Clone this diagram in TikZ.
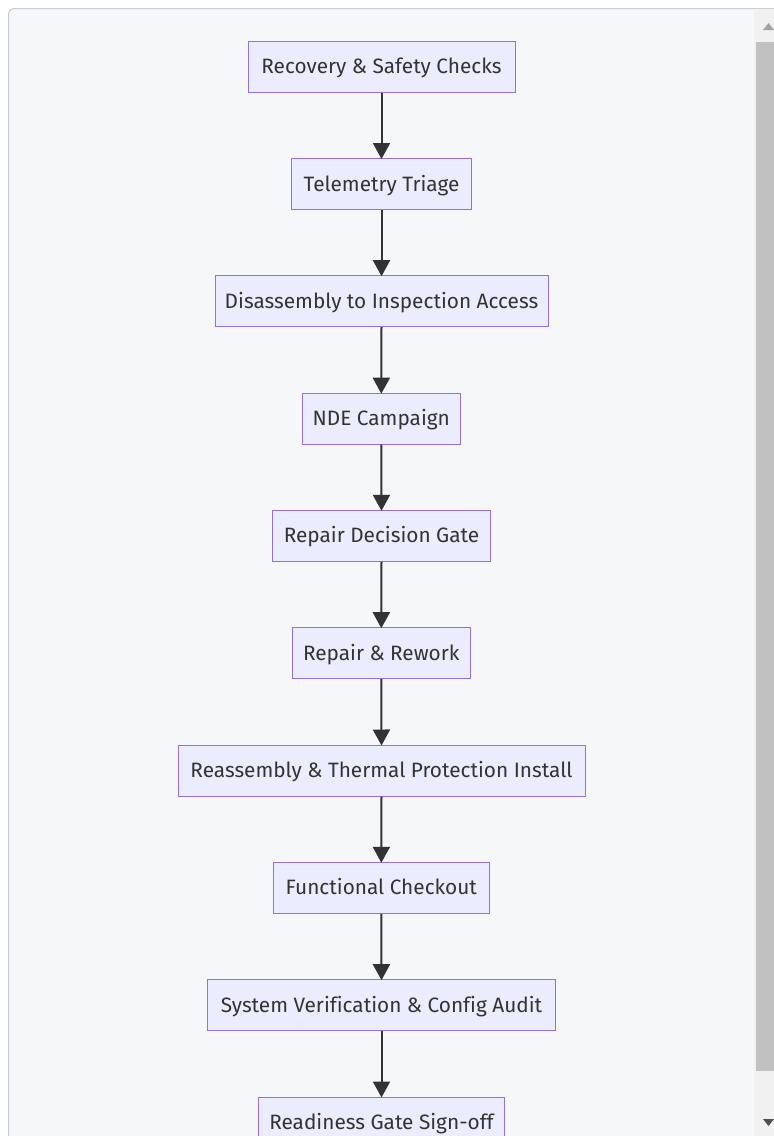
\documentclass[tikz,border=0pt]{standalone}
\usepackage{fontspec}
\setmainfont[Ligatures=NoCommon]{Fira Sans}
\usetikzlibrary{arrows.meta}
\definecolor{pagebg}{HTML}{FFFFFF}
\definecolor{panelbg}{HTML}{F6F7F9}
\definecolor{panelborder}{HTML}{C9CED4}
\definecolor{nodefill}{HTML}{ECECFF}
\definecolor{nodeborder}{HTML}{9370DB}
\definecolor{textcol}{HTML}{333333}
\definecolor{edgecol}{HTML}{333333}
\definecolor{trackcol}{HTML}{F1F1F1}
\definecolor{thumbcol}{HTML}{C1C1C1}
\definecolor{uparrowcol}{HTML}{A3A3A3}
\definecolor{downarrowcol}{HTML}{505050}
\tikzset{
  flowbox/.style={draw=nodeborder, fill=nodefill, line width=1pt, rectangle,
    minimum height=51pt, inner sep=0pt, text=textcol,
    font=\fontsize{20.8pt}{24pt}\selectfont, text height=14.3pt, text depth=0pt},
  flowedge/.style={draw=edgecol, line width=2pt, -{Triangle[length=16pt,width=17pt]}},
}
\begin{document}
\begin{tikzpicture}[x=1pt,y=-1pt]
\useasboundingbox (0,0) rectangle (774,1136);
\clip (0,0) rectangle (774,1136);
\fill[pagebg] (0,0) rectangle (774,1136);
\draw[panelborder, fill=panelbg, line width=1pt, rounded corners=5pt] (8.5,8.5) rectangle (820,1200);
% scrollbar
\fill[trackcol] (754,9) rectangle (774,1136);
\fill[thumbcol] (756,42) rectangle (774,1071);
\fill[uparrowcol] (768.5,23) -- (774,30) -- (763,30) -- cycle;
\fill[downarrowcol] (768.5,1126) -- (774,1119) -- (763,1119) -- cycle;
% nodes
\node[flowbox, minimum width=267pt] (n1) at (381.5,66.5) {Recovery \& Safety Checks};
\node[flowbox, minimum width=180pt] (n2) at (381.5,184) {Telemetry Triage};
\node[flowbox, minimum width=333pt] (n3) at (381.5,301.2) {Disassembly to Inspection Access};
\node[flowbox, minimum width=158pt] (n4) at (381.3,418.7) {NDE Campaign};
\node[flowbox, minimum width=218pt] (n5) at (381.5,535.8) {Repair Decision Gate};
\node[flowbox, minimum width=178pt] (n6) at (381.3,653.2) {Repair \& Rework};
\node[flowbox, minimum width=407pt] (n7) at (381.5,770.5) {Reassembly \& Thermal Protection Install};
\node[flowbox, minimum width=216pt] (n8) at (381.3,887.8) {Functional Checkout};
\node[flowbox, minimum width=348pt] (n9) at (381.5,1005.2) {System Verification \& Config Audit};
\node[flowbox, minimum width=246pt] (n10) at (381.5,1122.5) {Readiness Gate Sign-off};
% edges
\foreach \a/\b in {n1/n2,n2/n3,n3/n4,n4/n5,n5/n6,n6/n7,n7/n8,n8/n9,n9/n10}{
  \draw[flowedge] (\a.south) -- ([yshift=-1pt]\b.north);
}
\end{tikzpicture}
\end{document}
